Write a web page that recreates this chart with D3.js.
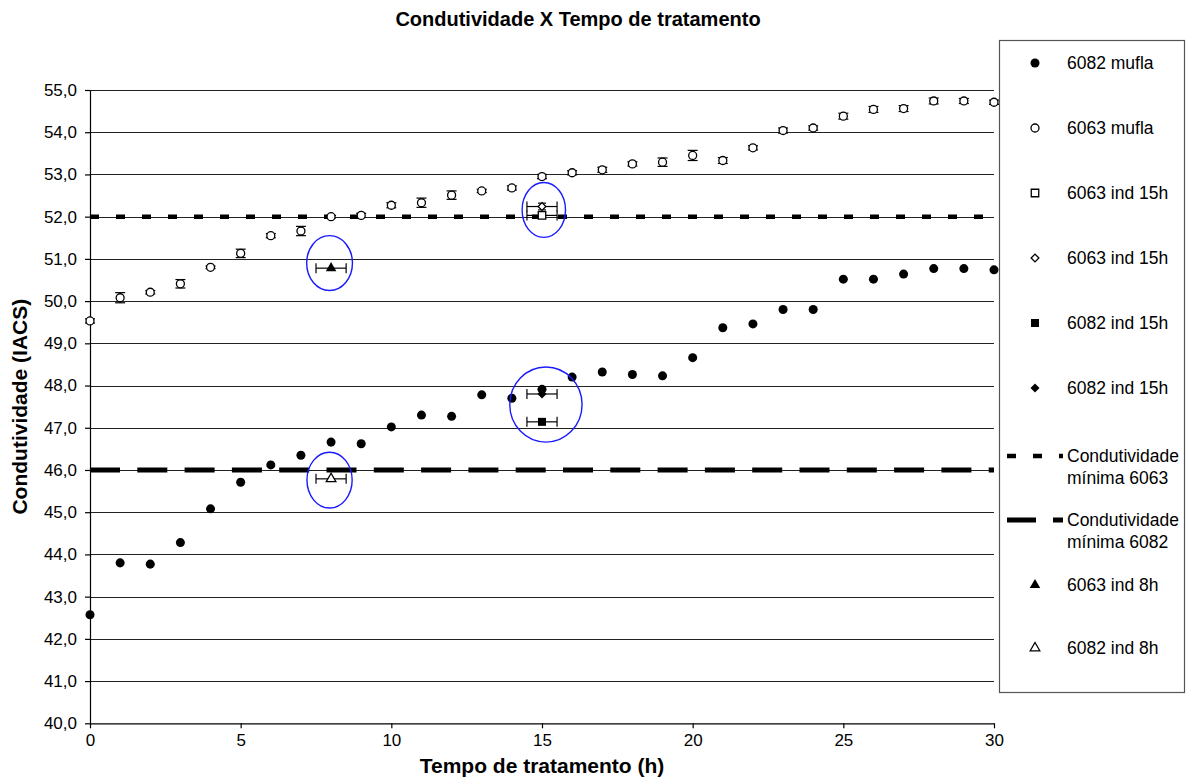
<!DOCTYPE html>
<html><head><meta charset="utf-8">
<script src="https://cdn.jsdelivr.net/npm/d3@7"></script>
<style>
html,body{margin:0;padding:0;background:#fff;}
text{font-family:"Liberation Sans",Arial,sans-serif;}
</style></head>
<body>
<svg id="chart" width="1190" height="782"></svg>
<script>
// ---- data ----
const title = "Condutividade X Tempo de tratamento";
const xTitle = "Tempo de tratamento (h)";
const yTitle = "Condutividade (IACS)";
const time = d3.range(0, 31);
const mufla6082 = [42.57,43.80,43.77,44.28,45.08,45.71,46.12,46.35,46.66,46.62,47.02,47.30,47.27,47.78,47.70,47.91,48.20,48.32,48.26,48.23,48.66,49.37,49.46,49.80,49.80,50.52,50.52,50.64,50.77,50.77,50.74];
const mufla6063 = [49.53,50.08,50.21,50.41,50.80,51.13,51.55,51.66,52.00,52.03,52.27,52.33,52.51,52.61,52.68,52.95,53.04,53.11,53.25,53.29,53.45,53.33,53.63,54.04,54.10,54.38,54.54,54.56,54.74,54.74,54.71];
const err6063 = [0.05,0.12,0.04,0.10,0.03,0.10,0.05,0.11,0.03,0.05,0.06,0.11,0.10,0.04,0.05,0.05,0.05,0.06,0.05,0.10,0.12,0.07,0.05,0.06,0.05,0.07,0.07,0.07,0.07,0.06,0.05];
// induction points: [time, value, xError, yError]
const ind15_6063_sq = [[15, 52.03, 0.5, 0]];
const ind15_6063_di = [[15, 52.24, 0.5, 0.08]];
const ind15_6082_sq = [[15, 47.14, 0.5, 0]];
const ind15_6082_di = [[15, 47.80, 0.5, 0]];
const ind8_6063 = [[8, 50.78, 0.5, 0]];
const ind8_6082 = [[8, 45.79, 0.5, 0]];
const min6063 = 52.0;
const min6082 = 46.0;
const xTicks = [0,5,10,15,20,25,30];
const yTicks = d3.range(40, 56, 1);
// highlight ellipses: [cx, cy, rx, ry] in data units
const ellipses = [[7.95,50.90,0.76,0.65],[7.95,45.76,0.75,0.66],[15.06,52.16,0.72,0.65],[15.13,47.55,1.20,0.89]];
const legendLabels = [
  ["6082 mufla"],["6063 mufla"],["6063 ind 15h"],["6063 ind 15h"],["6082 ind 15h"],["6082 ind 15h"],
  ["Condutividade","mínima 6063"],["Condutividade","mínima 6082"],["6063 ind 8h"],["6082 ind 8h"]
];

// ---- chart ----
const svg = d3.select("#chart");
svg.append("rect").attr("width",1190).attr("height",782).attr("fill","#fff");
const x = d3.scaleLinear([0,30],[90,994]);
const y = d3.scaleLinear([40,55],[723.3,90]);
const fmt = v => d3.format(".1f")(v).replace(".", ",");

// gridlines
svg.append("g").selectAll("line").data(yTicks.filter(v=>v>40)).join("line")
  .attr("x1",x(0)).attr("x2",x(30)).attr("y1",d=>Math.round(y(d))+0.5).attr("y2",d=>Math.round(y(d))+0.5)
  .attr("stroke","#222").attr("stroke-width",1);

// axes
const gy = svg.append("g").attr("transform",`translate(${x(0)},0)`)
  .call(d3.axisLeft(y).tickValues(yTicks).tickFormat(fmt).tickSize(5).tickSizeOuter(0).tickPadding(8));
const gx = svg.append("g").attr("transform",`translate(0,${y(40)})`)
  .call(d3.axisBottom(x).tickValues(xTicks).tickFormat(d3.format("d")).tickSize(5).tickSizeOuter(0).tickPadding(6));
[gx,gy].forEach(g=>{
  g.selectAll("text").attr("font-size",17).attr("fill","#000").attr("font-family","Liberation Sans, Arial, sans-serif");
  g.selectAll("line,path").attr("stroke","#000").attr("stroke-width",1.2);
});

// reference lines
svg.append("line").attr("x1",x(0)).attr("x2",x(30)).attr("y1",y(min6063)).attr("y2",y(min6063))
  .attr("stroke","#000").attr("stroke-width",4.5).attr("stroke-dasharray","9,17");
svg.append("line").attr("x1",x(0)).attr("x2",x(30)).attr("y1",y(min6082)).attr("y2",y(min6082))
  .attr("stroke","#000").attr("stroke-width",5).attr("stroke-dasharray","30,17.3");

// error bars 6063 mufla (vertical)
const eb = svg.append("g").attr("stroke","#000").attr("stroke-width",1.2).attr("fill","none");
time.forEach((t,i)=>{
  const cx=x(t), y1=y(mufla6063[i]-err6063[i]), y2=y(mufla6063[i]+err6063[i]);
  eb.append("line").attr("x1",cx).attr("x2",cx).attr("y1",y1).attr("y2",y2);
  eb.append("line").attr("x1",cx-5).attr("x2",cx+5).attr("y1",y1).attr("y2",y1);
  eb.append("line").attr("x1",cx-5).attr("x2",cx+5).attr("y1",y2).attr("y2",y2);
});
// horizontal/vertical error bars for induction points
function errBars(data){
  data.forEach(([t,v,ex,ey])=>{
    const cy=y(v), xa=x(t-ex), xb=x(t+ex);
    eb.append("line").attr("x1",xa).attr("x2",xb).attr("y1",cy).attr("y2",cy);
    eb.append("line").attr("x1",xa).attr("x2",xa).attr("y1",cy-5).attr("y2",cy+5);
    eb.append("line").attr("x1",xb).attr("x2",xb).attr("y1",cy-5).attr("y2",cy+5);
    if(ey>0){
      const ya=y(v-ey), yb=y(v+ey), cx=x(t);
      eb.append("line").attr("x1",cx).attr("x2",cx).attr("y1",ya).attr("y2",yb);
      eb.append("line").attr("x1",cx-4).attr("x2",cx+4).attr("y1",ya).attr("y2",ya);
      eb.append("line").attr("x1",cx-4).attr("x2",cx+4).attr("y1",yb).attr("y2",yb);
    }
  });
}
[ind15_6063_sq,ind15_6063_di,ind15_6082_sq,ind15_6082_di,ind8_6063,ind8_6082].forEach(errBars);

// marker drawing helper
const shapes = {
  dotFill:  {type:d3.symbolCircle, size:64, fill:"#000", stroke:"none", rot:0},
  dotOpen:  {type:d3.symbolCircle, size:50, fill:"#fff", stroke:"#000", rot:0},
  sqOpen:   {type:d3.symbolSquare, size:56, fill:"#fff", stroke:"#000", rot:0},
  diOpen:   {type:d3.symbolSquare, size:30, fill:"#fff", stroke:"#000", rot:45},
  sqFill:   {type:d3.symbolSquare, size:64, fill:"#000", stroke:"none", rot:0},
  diFill:   {type:d3.symbolSquare, size:40, fill:"#000", stroke:"none", rot:45},
  triFill:  {type:d3.symbolTriangle, size:48, fill:"#000", stroke:"none", rot:0},
  triOpen:  {type:d3.symbolTriangle, size:40, fill:"#fff", stroke:"#000", rot:0}
};
function drawMarker(g, key, cx, cy){
  const s = shapes[key];
  g.append("path").attr("d", d3.symbol().type(s.type).size(s.size)())
    .attr("transform",`translate(${cx},${cy}) rotate(${s.rot})`)
    .attr("fill",s.fill).attr("stroke",s.stroke).attr("stroke-width",1.3);
}
const mk = svg.append("g");
time.forEach((t,i)=>drawMarker(mk,"dotFill",x(t),y(mufla6082[i])));
time.forEach((t,i)=>drawMarker(mk,"dotOpen",x(t),y(mufla6063[i])));
ind15_6063_sq.forEach(d=>drawMarker(mk,"sqOpen",x(d[0]),y(d[1])));
ind15_6063_di.forEach(d=>drawMarker(mk,"diOpen",x(d[0]),y(d[1])));
ind15_6082_sq.forEach(d=>drawMarker(mk,"sqFill",x(d[0]),y(d[1])));
ind15_6082_di.forEach(d=>drawMarker(mk,"diFill",x(d[0]),y(d[1])));
ind8_6063.forEach(d=>drawMarker(mk,"triFill",x(d[0]),y(d[1])));
ind8_6082.forEach(d=>drawMarker(mk,"triOpen",x(d[0]),y(d[1])));

// ellipses
svg.append("g").selectAll("ellipse").data(ellipses).join("ellipse")
  .attr("cx",d=>x(d[0])).attr("cy",d=>y(d[1]))
  .attr("rx",d=>x(d[2])-x(0)).attr("ry",d=>y(40)-y(40+d[3]))
  .attr("fill","none").attr("stroke","#1a1aff").attr("stroke-width",1.4);

// titles
svg.append("text").attr("x",578).attr("y",26).attr("text-anchor","middle")
  .attr("font-size",20).attr("font-weight","bold").text(title);
svg.append("text").attr("x",(x(0)+x(30))/2).attr("y",773).attr("text-anchor","middle")
  .attr("font-size",21).attr("font-weight","bold").text(xTitle);
svg.append("text").attr("transform",`translate(27,${(y(40)+y(55))/2}) rotate(-90)`).attr("text-anchor","middle")
  .attr("font-size",21).attr("font-weight","bold").text(yTitle);

// legend
const lg = svg.append("g");
lg.append("rect").attr("x",999.5).attr("y",40.5).attr("width",185).attr("height",652)
  .attr("fill","#fff").attr("stroke","#555").attr("stroke-width",1.2);
const rowY = [63,128,193,258,323,388,456,520,585,648];
const legKeys = ["dotFill","dotOpen","sqOpen","diOpen","sqFill","diFill",null,null,"triFill","triOpen"];
legendLabels.forEach((lab,i)=>{
  const cy = rowY[i];
  if(legKeys[i]) drawMarker(lg, legKeys[i], 1035, cy);
  else {
    const is6063 = i===6;
    lg.append("line").attr("x1",1007).attr("x2",1063).attr("y1",cy).attr("y2",cy)
      .attr("stroke","#000").attr("stroke-width",is6063?4.5:5)
      .attr("stroke-dasharray",is6063?"9,17":"29,17");
  }
  lab.forEach((t,j)=>{
    lg.append("text").attr("x",1067).attr("y",cy+6+j*22).attr("font-size",17.5).attr("fill","#000").text(t);
  });
});
</script>
</body></html>
